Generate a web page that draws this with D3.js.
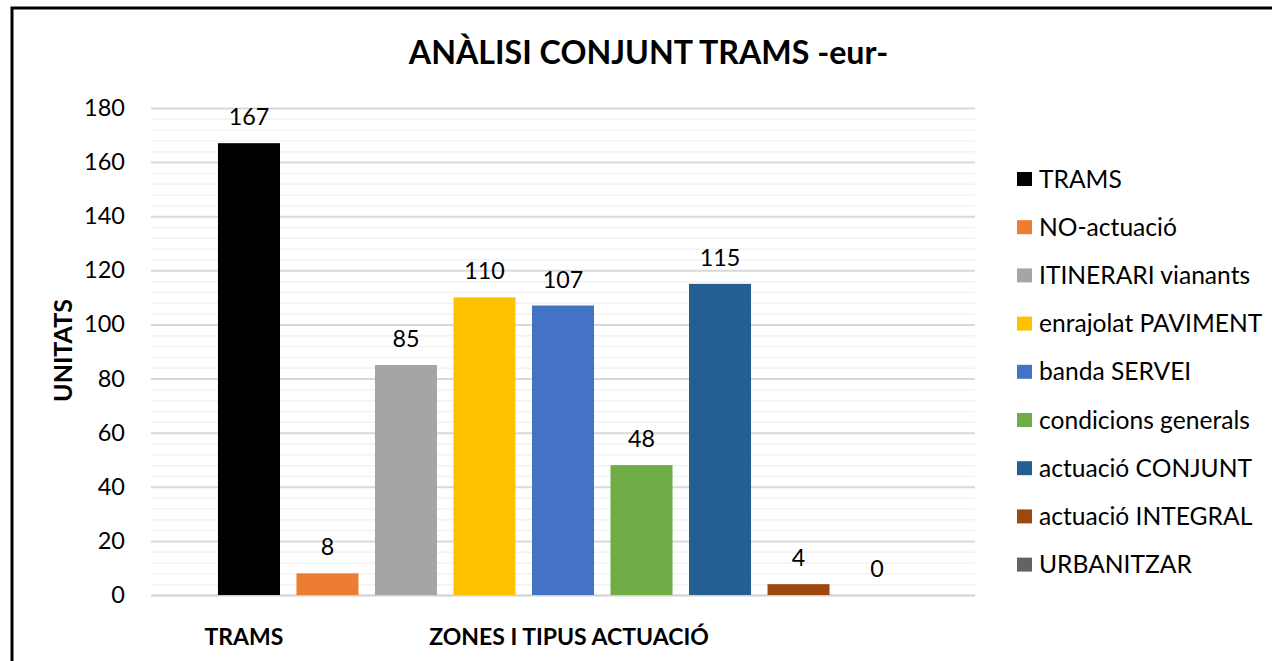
<!DOCTYPE html>
<html><head><meta charset="utf-8">
<script src="https://cdn.jsdelivr.net/npm/d3@7"></script>
<style>body{margin:0;background:#fff;}svg{display:block;font-family:Lato,"Open Sans",sans-serif;}</style>
</head><body><svg id="c" width="1272" height="661"></svg>
<script>
const series = ["TRAMS","NO-actuació","ITINERARI vianants","enrajolat PAVIMENT","banda SERVEI","condicions generals","actuació CONJUNT","actuació INTEGRAL","URBANITZAR"];
const values = [167, 8, 85, 110, 107, 48, 115, 4, 0];
const colors = ["#000000","#ED7D31","#A5A5A5","#FFC000","#4472C4","#70AD47","#255E91","#9E480E","#636363"];
const yTicks = [0,20,40,60,80,100,120,140,160,180];
const groupLabels = ["TRAMS","ZONES I TIPUS ACTUACIÓ"];
const title = "ANÀLISI CONJUNT TRAMS -eur-";
const yTitle = "UNITATS";

const svg = d3.select("#c");
svg.append("rect").attr("x",12).attr("y",8).attr("width",1300).attr("height",700)
  .attr("fill","#fff").attr("stroke","#000").attr("stroke-width",3);

const x0 = 151, x1 = 975, yb = 595, yt = 108;
const y = d3.scaleLinear().domain([0,180]).range([yb,yt]);
const x = d3.scaleBand().domain(series).range([x0,x1]).paddingInner(0.21).paddingOuter(0.853);

// minor grid
const minor = d3.range(0,181,4).filter(v=>v%20!==0);
svg.append("g").selectAll("line").data(minor).join("line")
  .attr("x1",x0).attr("x2",x1).attr("y1",d=>y(d)+0.5).attr("y2",d=>y(d)+0.5)
  .attr("stroke","#F2F2F2").attr("stroke-width",1.5);
// major grid via axis
const ax = svg.append("g").attr("transform",`translate(${x0},0)`)
  .call(d3.axisLeft(y).tickValues(yTicks).tickSize(-(x1-x0)).tickPadding(26));
ax.select(".domain").remove();
ax.selectAll(".tick line").attr("stroke",d=>d===0?"#D0D0D0":"#D9D9D9").attr("stroke-width",2);
ax.selectAll(".tick text").attr("font-size",23.5).attr("fill","#000").attr("font-family","Lato");

svg.append("g").selectAll("rect").data(series).join("rect")
  .attr("x",d=>x(d)).attr("width",x.bandwidth())
  .attr("y",(d,i)=>y(values[i])).attr("height",(d,i)=>yb-y(values[i]))
  .attr("fill",(d,i)=>colors[i]);

svg.append("g").selectAll("text").data(series).join("text")
  .attr("x",d=>x(d)+x.bandwidth()/2).attr("y",(d,i)=>y(values[i])-18)
  .attr("text-anchor","middle").attr("font-size",23.3).attr("fill","#000")
  .text((d,i)=>values[i]);

svg.append("text").attr("x",648.5).attr("y",64).attr("text-anchor","middle")
  .attr("font-size",32.2).attr("font-weight","bold").text(title);

svg.append("text").attr("transform","translate(72,350.5) rotate(-90)").attr("text-anchor","middle")
  .attr("font-size",25).attr("font-weight","bold").text(yTitle);

const gx = [244, 569];
svg.append("g").selectAll("text").data(groupLabels).join("text")
  .attr("x",(d,i)=>gx[i]).attr("y",645).attr("text-anchor","middle")
  .attr("font-size",23).attr("font-weight","bold").text(d=>d);

const leg = svg.append("g").selectAll("g").data(series).join("g")
  .attr("transform",(d,i)=>`translate(1017,${179+i*48.2})`);
leg.append("rect").attr("x",0).attr("y",-7).attr("width",15).attr("height",14).attr("fill",(d,i)=>colors[i]);
leg.append("text").attr("x",22).attr("y",8.5).attr("font-size",24.6).attr("fill","#000").text(d=>d);
</script></body></html>
